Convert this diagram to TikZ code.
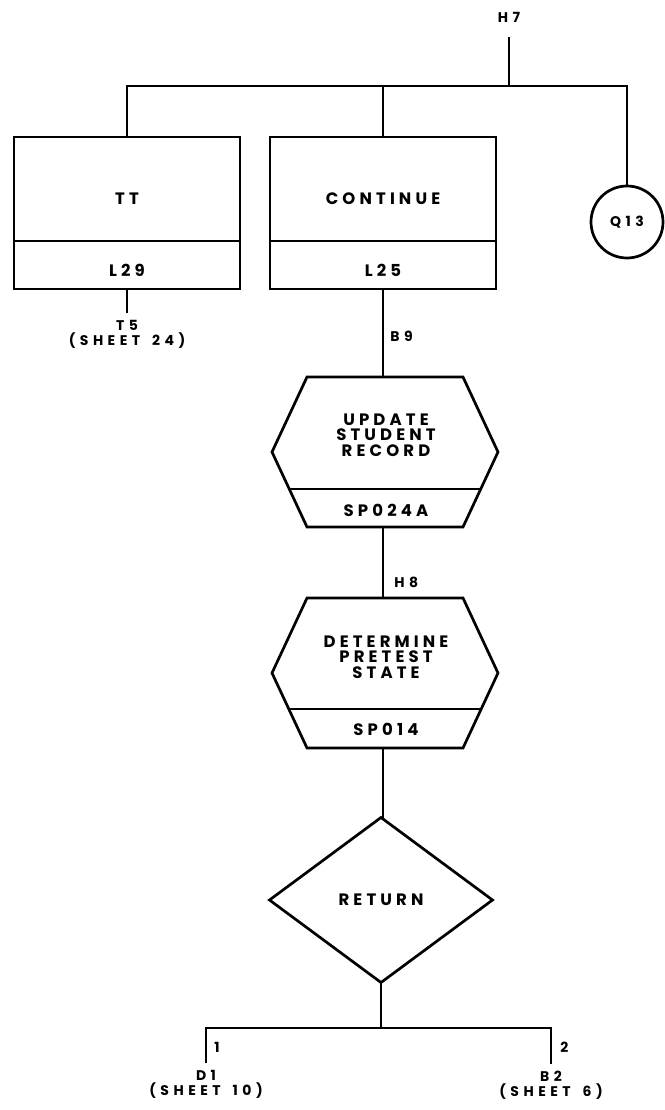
\documentclass[tikz,border=0pt]{standalone}
\usepackage{fontspec}
\setmainfont{Poppins}
\newfontfamily\lettering[LetterSpace=25]{Poppins}
\newfontfamily\tagletters[LetterSpace=32]{Poppins}
\usetikzlibrary{shapes.geometric, positioning}

\begin{document}
\begin{tikzpicture}[
  x=1pt, y=-1pt,
  line width=2.7pt,
  word/.style={font=\lettering\bfseries\fontsize{16.5}{15.5}\selectfont, align=center, inner sep=0pt},
  tag/.style={font=\tagletters\bfseries\fontsize{14}{15}\selectfont, align=center, inner sep=0pt},
  block/.style={rectangle, draw, minimum width=226pt, inner sep=0pt, outer sep=0pt}
]
\useasboundingbox (0,0) rectangle (664,1110);

% Entry point and top bus
\node[tag] (h7) at (509,17) {H7};
\coordinate (h7top) at (509,37);
\coordinate (bus) at (509,86);

% Two boxes and the connector circle
\node[block, minimum height=104pt, anchor=north] (tt) at (127,137) {};
\node[block, minimum height=48pt, anchor=north] (ttb) at (tt.south) {};
\node[word] (tttext) at (127,199) {TT};
\node[word] (ttcode) at (127,270) {L29};

\node[block, minimum height=104pt, anchor=north] (cont) at (383,137) {};
\node[block, minimum height=48pt, anchor=north] (contb) at (cont.south) {};
\node[word] (conttext) at (383,199) {CONTINUE};
\node[word] (contcode) at (383,270) {L25};

\node[circle, draw, minimum size=72pt, inner sep=0pt, outer sep=0pt,
      font=\tagletters\bfseries\fontsize{14}{16}\selectfont] (q13) at (627,222) {Q13};

\draw (h7top) -- (bus);
\draw (tt.north) |- (bus) -| (q13.north);
\draw (cont.north) -- (cont.north |- bus);

% Exit below TT
\coordinate (t5end) at (127,313);
\draw (ttb.south) -- (t5end);
\node[tag, below=6pt of t5end] (t5) {T5\\(SHEET\hspace{12pt}24)};

% First subprogram
\coordinate (upd-n) at (383,377);
\coordinate (upd-s) at (383,527);
\draw (272,452) -- (307,377) -- (463,377) -- (498,452) -- (463,527) -- (307,527) -- cycle;
\draw (289,489) -- (481,489);
\node[word] (updtext) at (386,435) {UPDATE\\STUDENT\\RECORD};
\node[word] (updcode) at (386,510) {SP024A};

\draw (contb.south) -- (upd-n);
\node[tag, anchor=west] (b9) at (389,336) {B9};

% Second subprogram
\coordinate (det-n) at (383,598);
\coordinate (det-s) at (383,748);
\draw (272,673) -- (307,598) -- (463,598) -- (498,673) -- (463,748) -- (307,748) -- cycle;
\draw (289,709) -- (481,709);
\node[word] (dettext) at (386,657) {DETERMINE\\PRETEST\\STATE};
\node[word] (detcode) at (386,729) {SP014};

\draw (upd-s) -- (det-n);
\node[tag, anchor=west] (h8) at (393,582) {H8};

% Decision
\node[diamond, draw, aspect=1.36, minimum width=223pt, minimum height=165pt,
      inner sep=0pt, outer sep=0pt, word] (ret) at (381,900) {RETURN};
\draw (det-s) -- (det-s |- ret.north);

% Two exits
\coordinate (fork) at (381,1028);
\coordinate (d1end) at (206,1063);
\coordinate (b2end) at (551,1064);
\draw (ret.south) -- (fork);
\draw (d1end) -- (d1end |- fork) -| (b2end);
\node[tag, anchor=west] (one) at (213,1047) {1};
\node[tag, anchor=west] (two) at (559,1047) {2};
\node[tag, below=6pt of d1end] (d1) {D1\\(SHEET\hspace{12pt}10)};
\node[tag, below=6pt of b2end] (b2) {B2\\(SHEET\hspace{12pt}6)};

\end{tikzpicture}
\end{document}
